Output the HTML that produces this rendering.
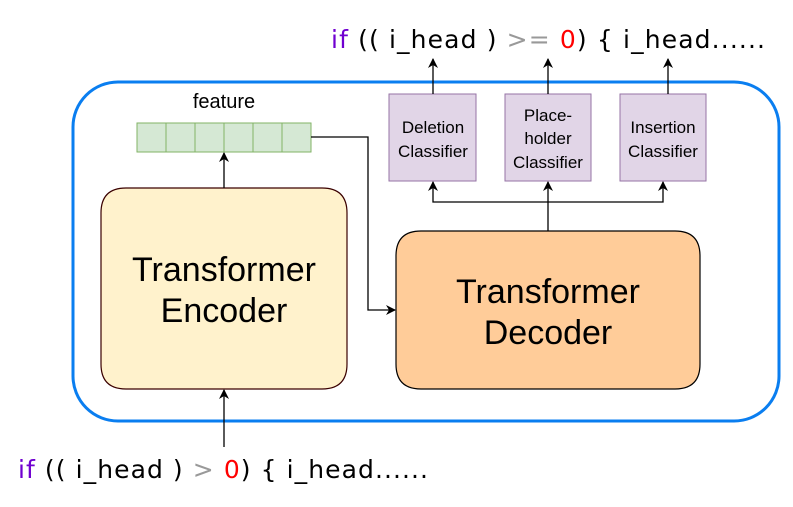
<!DOCTYPE html>
<html><head><meta charset="utf-8"><style>html,body{margin:0;padding:0;background:#fff}svg{display:block}
.s{font-family:"Liberation Sans",Arial,sans-serif}
.c{font-family:"DejaVu Sans",sans-serif;font-size:25px}
</style></head>
<body>
<svg width="793" height="507" viewBox="0 0 793 507" xmlns="http://www.w3.org/2000/svg">
<defs><marker id="a" markerWidth="10" markerHeight="10" refX="9" refY="5" orient="auto" markerUnits="userSpaceOnUse"><path d="M0,0 L10,5 L0,10 L3,5 Z" fill="#000"/></marker></defs>
<rect x="73" y="82" width="706" height="339" rx="45" fill="none" stroke="#0a7ef0" stroke-width="3"/>
<g class="s" text-anchor="middle">
<text x="224" y="108" font-size="20">feature</text>
<g fill="#d5e8d4" stroke="#82b366">
<rect x="137" y="123" width="29" height="29"/><rect x="166" y="123" width="29" height="29"/><rect x="195" y="123" width="29" height="29"/><rect x="224" y="123" width="29" height="29"/><rect x="253" y="123" width="29" height="29"/><rect x="282" y="123" width="29" height="29"/>
</g>
<path d="M101,213 Q101,188 126,188 L322,188 Q347,188 347,213 L347,364 Q347,389 322,389 L126,389 Q101,389 101,364 Z" fill="#fff2cc" stroke="#3a0000" stroke-width="1.2"/>
<text x="224" y="281" font-size="34">Transformer</text>
<text x="224" y="322" font-size="34">Encoder</text>
<path d="M396,256 Q396,231 421,231 L675,231 Q700,231 700,256 L700,364 Q700,389 675,389 L421,389 Q396,389 396,364 Z" fill="#ffcc99" stroke="#000" stroke-width="1.2"/>
<text x="548" y="303" font-size="34">Transformer</text>
<text x="548" y="344" font-size="34">Decoder</text>
<g fill="#e1d5e7" stroke="#9673a6">
<rect x="389" y="94" width="87" height="87"/><rect x="505" y="94" width="86" height="87"/><rect x="620" y="94" width="86" height="87"/>
</g>
<g font-size="17">
<text x="433" y="133">Deletion</text><text x="433" y="157">Classifier</text>
<text x="548" y="121">Place-</text><text x="548" y="144">holder</text><text x="548" y="168">Classifier</text>
<text x="663" y="133">Insertion</text><text x="663" y="157">Classifier</text>
</g>
</g>
<g stroke="#000" stroke-width="1.3" fill="none">
<line x1="224" y1="188" x2="224" y2="153" marker-end="url(#a)"/>
<line x1="224" y1="447" x2="224" y2="390" marker-end="url(#a)"/>
<polyline points="311,137 368,137 368,310 395,310" marker-end="url(#a)"/>
<line x1="548" y1="231" x2="548" y2="182" marker-end="url(#a)"/>
<polyline points="548,202 433,202 433,182" marker-end="url(#a)"/>
<polyline points="548,202 663,202 663,182" marker-end="url(#a)"/>
<line x1="433" y1="94" x2="433" y2="59" marker-end="url(#a)"/>
<line x1="548" y1="94" x2="548" y2="59" marker-end="url(#a)"/>
<line x1="668" y1="94" x2="668" y2="59" marker-end="url(#a)"/>
</g>
<text class="c" x="331" y="48" xml:space="preserve" textLength="434" lengthAdjust="spacing"><tspan fill="#7000d0">if</tspan> (( i_head ) <tspan fill="#999">&gt;=</tspan> <tspan fill="#f00">0</tspan>) { i_head......</text>
<text class="c" x="18" y="478" xml:space="preserve" textLength="410" lengthAdjust="spacing"><tspan fill="#7000d0">if</tspan> (( i_head ) <tspan fill="#999">&gt;</tspan> <tspan fill="#f00">0</tspan>) { i_head......</text>
</svg>
</body></html>
